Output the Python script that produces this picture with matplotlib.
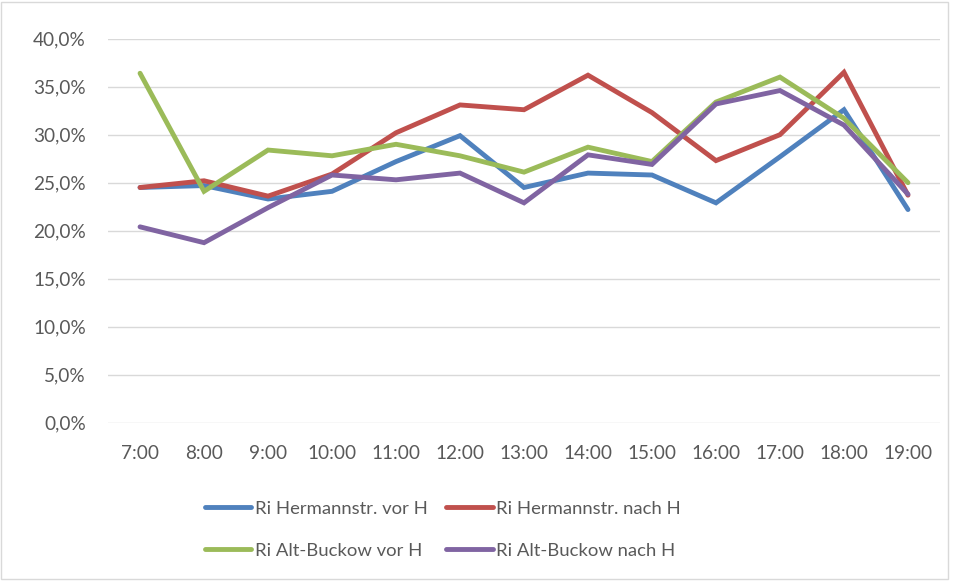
import matplotlib
matplotlib.use('Agg')
import matplotlib.pyplot as plt
from matplotlib.patches import Rectangle

# hourly shares per direction (in %)
hours = ['7:00', '8:00', '9:00', '10:00', '11:00', '12:00', '13:00',
         '14:00', '15:00', '16:00', '17:00', '18:00', '19:00']
herm_vor = [24.5, 24.7, 23.3, 24.1, 27.2, 29.9, 24.5, 26.0, 25.8, 22.9, 27.7, 32.6, 22.2]
herm_nach = [24.5, 25.2, 23.6, 25.9, 30.2, 33.1, 32.6, 36.2, 32.3, 27.3, 30.0, 36.5, 23.7]
buck_vor = [36.4, 24.1, 28.4, 27.8, 29.0, 27.8, 26.1, 28.7, 27.2, 33.4, 36.0, 31.7, 25.0]
buck_nach = [20.4, 18.75, 22.4, 25.8, 25.3, 26.0, 22.9, 27.9, 26.9, 33.2, 34.6, 31.0, 23.8]

labels = ['Ri Hermannstr. vor H', 'Ri Hermannstr. nach H',
          'Ri Alt-Buckow vor H', 'Ri Alt-Buckow nach H']
colors = ['#4F81BD', '#C0504D', '#9BBB59', '#8064A2']

plt.rcParams['font.family'] = ['Lato', 'DejaVu Sans']

fig = plt.figure(figsize=(9.57, 5.81), dpi=100)
ax = fig.add_axes([0.1129, 0.2725, 0.8693, 0.6609])

x = list(range(len(hours)))
lines = []
for series, lab, col in zip([herm_vor, herm_nach, buck_vor, buck_nach], labels, colors):
    l, = ax.plot(x, series, color=col, linewidth=3.5, label=lab, solid_capstyle='round',
                 solid_joinstyle='miter')
    lines.append(l)

ax.set_xlim(-0.5, len(hours) - 0.5)
ax.set_ylim(0, 40)
ax.set_yticks(range(0, 41, 5))
ax.set_yticklabels([('%.1f%%' % v).replace('.', ',') for v in range(0, 41, 5)])
ax.set_xticks(x)
ax.set_xticklabels(hours)

ax.grid(axis='y', color='#D9D9D9', linewidth=1)
ax.set_axisbelow(True)
for s in ax.spines.values():
    s.set_visible(False)
ax.tick_params(length=0, labelsize=13.7, labelcolor='#595959')
ax.tick_params(axis='x', pad=16)
ax.tick_params(axis='y', pad=16)

# row-wise legend order (matplotlib fills columns first)
order = [0, 2, 1, 3]
fig.legend([lines[i] for i in order], [labels[i] for i in order],
           loc='center', bbox_to_anchor=(0.463, 0.088), ncol=2, frameon=False,
           fontsize=13.3, labelcolor='#595959', handlelength=2.5,
           handletextpad=0.2, columnspacing=1.0, labelspacing=1.4)

fig.patches.append(Rectangle((0.001, 0.003), 0.990, 0.994, transform=fig.transFigure,
                             fill=False, edgecolor='#D9D9D9', linewidth=1))

fig.savefig('out.png', dpi=100)
